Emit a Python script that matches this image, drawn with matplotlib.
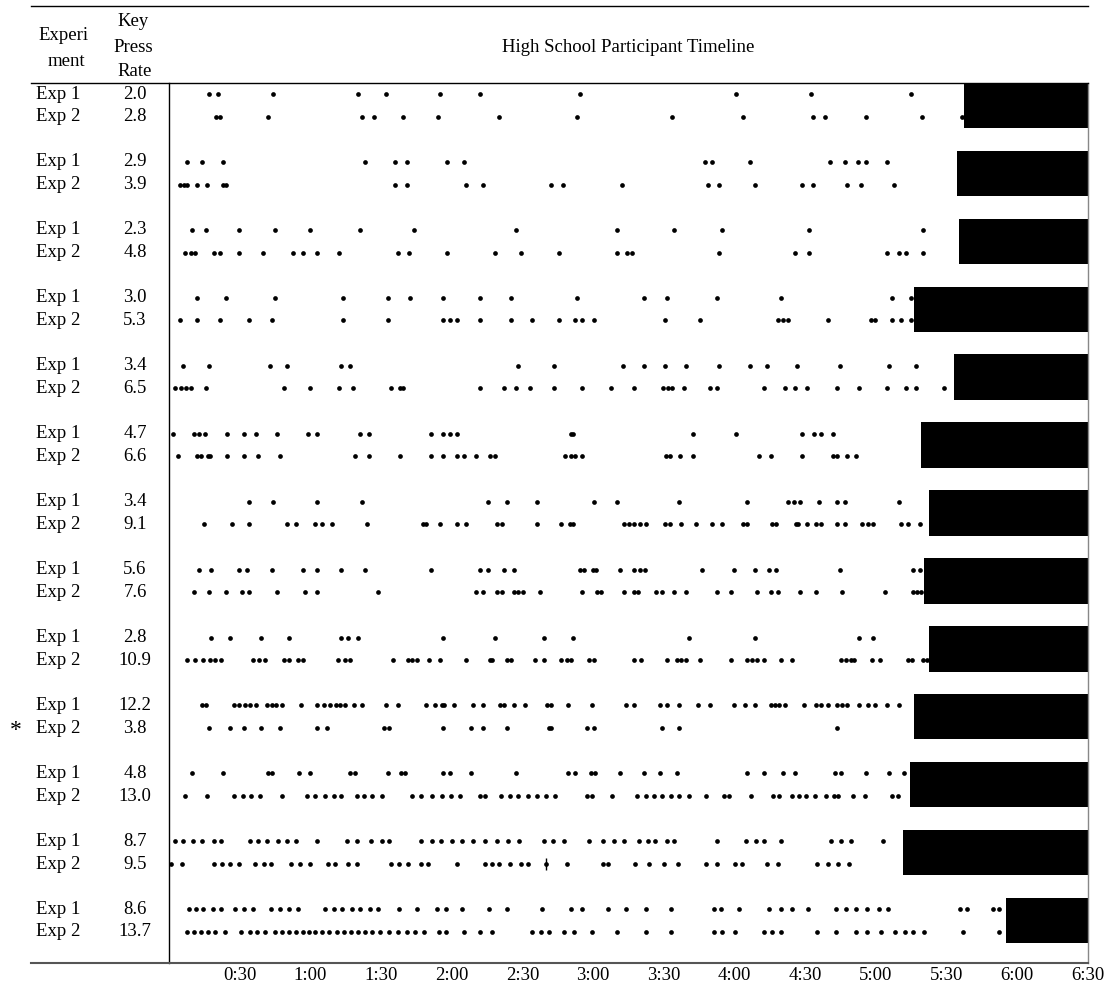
import matplotlib
matplotlib.use("Agg")
import matplotlib.pyplot as plt
from matplotlib.lines import Line2D
from matplotlib.transforms import blended_transform_factory

plt.rcParams['font.family'] = ['Liberation Serif', 'DejaVu Serif']

# key press rates per participant
rate_exp1 = [2.0, 2.9, 2.3, 3.0, 3.4, 4.7, 3.4, 5.6, 2.8, 12.2, 4.8, 8.7, 8.6]
rate_exp2 = [2.8, 3.9, 4.8, 5.3, 6.5, 6.6, 9.1, 7.6, 10.9, 3.8, 13.0, 9.5, 13.7]

# time (s) where the session ended (black bar starts)
session_end = [337.3, 334.3, 335.2, 316.1, 333.0, 319.0, 322.4, 320.3, 322.4, 316.1, 314.4, 311.4, 355.1]

# key press times in seconds
p1_exp1 = [17.0, 21.0, 44.1, 80.0, 92.1, 115.1, 132.1, 174.3, 240.6, 272.6, 314.8]
p1_exp2 = [20.0, 21.7, 41.9, 81.9, 87.1, 99.1, 114.0, 140.2, 173.3, 213.3, 243.6, 273.4, 278.5, 295.7, 319.7, 336.7]
p2_exp1 = [7.8, 13.8, 22.8, 83.0, 96.0, 101.0, 118.0, 125.1, 227.4, 230.5, 246.5, 280.7, 286.8, 292.4, 295.7, 304.7]
p2_exp2 = [4.7, 6.4, 7.8, 11.8, 16.0, 22.8, 24.0, 96.0, 101.0, 126.2, 133.3, 162.2, 167.3, 192.3, 228.6, 233.5,
           248.5, 268.6, 273.4, 287.7, 293.6, 307.7]
p3_exp1 = [9.8, 15.9, 29.9, 44.9, 59.9, 81.0, 104.1, 147.3, 190.3, 214.3, 234.5, 271.6, 319.8]
p3_exp2 = [6.7, 9.5, 11.2, 18.9, 21.7, 29.9, 39.9, 52.8, 56.9, 63.0, 72.0, 97.0, 102.0, 118.0, 138.2, 149.3,
           165.3, 190.3, 194.4, 196.3, 233.5, 265.5, 271.6, 304.6, 309.8, 312.8, 319.8]
p4_exp1 = [11.9, 24.0, 44.9, 73.9, 93.1, 102.1, 116.1, 132.1, 145.3, 173.3, 201.4, 211.4, 232.5, 259.6, 306.7, 314.8]
p4_exp2 = [4.8, 11.9, 21.8, 33.9, 43.9, 73.9, 93.1, 116.1, 119.1, 122.1, 132.1, 145.3, 154.2, 165.3, 172.3,
           175.3, 180.3, 210.4, 225.4, 258.6, 260.6, 262.5, 279.7, 297.8, 299.8, 306.7, 310.8, 314.8]
p5_exp1 = [5.8, 16.9, 42.9, 49.9, 72.9, 76.9, 148.1, 163.3, 192.5, 201.4, 210.4, 219.5, 233.5, 246.5, 253.6,
           266.6, 284.6, 305.7, 316.8]
p5_exp2 = [2.6, 5.0, 7.2, 9.2, 15.9, 48.9, 59.9, 72.0, 78.0, 94.0, 97.9, 99.1, 132.1, 142.3, 147.3, 153.2,
           163.3, 175.3, 187.4, 197.4, 209.6, 211.6, 213.5, 218.5, 229.5, 232.7, 252.6, 261.6, 265.5, 270.6,
           283.6, 292.7, 304.7, 312.8, 316.8, 328.8]
p6_exp1 = [1.7, 10.8, 12.9, 15.3, 24.8, 31.9, 36.8, 45.8, 58.9, 63.0, 81.0, 85.0, 111.2, 116.1, 119.1, 122.1,
           170.4, 171.4, 222.5, 240.5, 268.6, 273.6, 276.6, 281.7]
p6_exp2 = [4.0, 11.8, 13.5, 16.6, 17.6, 24.8, 31.9, 37.8, 46.9, 79.0, 85.0, 98.2, 111.2, 116.1, 122.1, 125.1,
           130.2, 136.1, 138.2, 168.2, 170.4, 172.5, 175.3, 211.0, 212.8, 216.7, 222.5, 250.5, 255.6, 268.6,
           281.7, 283.6, 287.7, 291.7]
p7_exp1 = [33.9, 44.1, 63.0, 82.0, 135.2, 143.3, 156.2, 180.3, 190.3, 216.5, 245.5, 262.5, 265.2, 267.8,
           275.7, 283.4, 286.8, 309.8]
p7_exp2 = [14.9, 26.9, 33.9, 49.9, 54.0, 62.0, 65.0, 69.0, 84.0, 107.8, 109.2, 115.1, 122.2, 126.2, 139.2,
           141.3, 156.2, 166.3, 170.0, 171.4, 193.3, 195.4, 197.5, 199.7, 202.5, 210.4, 212.6, 217.4, 223.5,
           230.5, 234.5, 243.6, 245.5, 256.0, 257.7, 266.0, 266.9, 270.6, 274.7, 276.6, 283.4, 286.8, 294.3,
           296.7, 298.9, 310.5, 313.7, 318.8]
p8_exp1 = [12.8, 17.9, 29.9, 32.9, 43.9, 56.9, 63.0, 72.9, 83.0, 111.2, 132.1, 135.3, 142.3, 146.3, 174.3,
           176.3, 179.9, 181.3, 191.3, 197.3, 199.7, 202.2, 226.4, 239.6, 248.5, 254.6, 257.4, 284.6, 315.6, 318.8]
p8_exp2 = [10.8, 16.9, 24.0, 30.9, 33.9, 45.9, 57.9, 63.0, 88.9, 130.2, 133.3, 139.2, 141.3, 146.3, 148.3,
           150.3, 157.3, 175.3, 181.7, 183.4, 193.3, 197.3, 199.0, 206.5, 209.3, 214.3, 219.5, 232.5, 238.5,
           249.5, 255.5, 258.6, 267.6, 274.7, 285.5, 303.7, 315.6, 317.6, 319.3]
p9_exp1 = [17.9, 25.8, 39.0, 51.0, 72.9, 76.1, 80.0, 116.1, 138.2, 159.3, 171.4, 220.5, 248.5, 292.7, 298.8]
p9_exp2 = [7.8, 10.9, 14.6, 17.4, 19.7, 22.0, 35.8, 38.1, 40.9, 48.7, 51.1, 54.7, 56.8, 71.8, 74.8, 76.6,
           95.0, 101.3, 103.1, 105.2, 110.2, 115.1, 126.2, 136.1, 137.2, 143.3, 145.2, 155.2, 159.3, 166.3,
           168.9, 170.4, 178.2, 180.3, 197.3, 200.4, 211.4, 215.4, 217.4, 219.5, 225.4, 238.5, 245.5, 247.5,
           249.7, 252.6, 259.6, 264.5, 285.3, 287.3, 289.3, 290.7, 298.5, 301.6, 313.7, 315.1, 319.8, 321.6]
p10_exp1 = [13.8, 15.5, 27.6, 29.6, 32.3, 34.4, 36.8, 41.8, 43.8, 45.2, 48.0, 56.0, 63.0, 65.9, 68.4, 70.7,
            72.7, 74.9, 78.6, 82.0, 92.1, 97.0, 109.1, 113.0, 115.9, 116.8, 121.1, 129.0, 133.1, 140.3, 142.3,
            146.3, 151.2, 160.5, 162.2, 169.2, 179.3, 194.0, 197.3, 208.3, 211.4, 216.5, 224.5, 229.5, 239.6,
            244.6, 248.5, 255.6, 257.3, 258.7, 261.4, 269.5, 274.7, 276.6, 279.7, 283.6, 285.8, 287.9, 292.7,
            296.7, 299.8, 304.7, 309.8]
p10_exp2 = [16.9, 25.8, 31.9, 39.0, 46.9, 63.0, 67.0, 91.1, 93.2, 116.1, 128.2, 133.1, 143.3, 161.2, 162.2,
            177.5, 180.3, 209.4, 216.5, 283.6]
p11_exp1 = [9.8, 22.8, 41.9, 43.9, 55.0, 59.9, 76.9, 79.0, 93.1, 98.4, 100.3, 116.1, 119.1, 128.2, 147.3,
            169.2, 172.2, 178.9, 180.7, 191.3, 201.4, 208.5, 215.5, 245.5, 252.6, 260.6, 265.5, 282.7, 285.3,
            295.7, 305.7, 311.8]
p11_exp2 = [6.9, 16.0, 27.5, 31.2, 34.8, 38.8, 47.8, 58.4, 62.1, 66.0, 70.0, 73.0, 79.7, 82.7, 86.3, 90.2,
            103.3, 106.9, 111.5, 116.0, 119.6, 123.6, 131.8, 134.2, 141.1, 144.8, 148.1, 152.3, 156.0, 159.9,
            163.9, 177.2, 179.6, 188.1, 198.7, 202.3, 205.7, 209.3, 212.9, 216.6, 220.5, 228.1, 235.6, 237.8,
            246.9, 256.2, 259.0, 264.4, 267.4, 270.5, 274.1, 278.7, 282.0, 284.1, 290.2, 295.3, 306.8, 309.3]
p12_exp1 = [2.4, 6.0, 10.0, 13.9, 19.1, 22.1, 34.2, 37.9, 41.8, 46.3, 50.0, 53.9, 63.0, 75.7, 79.7, 85.7,
            90.2, 93.3, 106.9, 111.5, 115.4, 120.0, 124.5, 129.0, 134.2, 139.3, 143.9, 148.7, 159.0, 162.9,
            167.5, 178.1, 184.2, 188.7, 193.2, 199.3, 203.2, 206.3, 211.4, 214.4, 232.6, 244.7, 249.3, 252.3,
            259.9, 281.1, 285.0, 289.6, 302.9]
p12_exp2 = [0.9, 5.4, 19.1, 22.7, 25.7, 29.7, 36.6, 40.3, 43.3, 51.8, 55.4, 60.0, 67.5, 70.6, 76.0, 79.7,
            94.2, 97.8, 101.5, 106.9, 109.9, 122.1, 134.2, 137.2, 140.2, 144.8, 149.3, 152.3, 159.9, 169.0,
            184.2, 186.3, 197.8, 203.8, 209.9, 215.9, 228.1, 232.6, 240.2, 243.2, 253.8, 258.4, 275.0, 279.6,
            284.1, 288.6]
p13_exp1 = [8.5, 11.5, 14.5, 18.5, 22.1, 28.2, 31.8, 35.7, 43.3, 46.9, 50.9, 54.8, 66.0, 70.0, 73.6, 77.5,
            81.2, 85.1, 88.7, 97.8, 105.4, 113.6, 117.5, 124.5, 135.7, 143.3, 158.4, 170.5, 175.1, 186.3,
            194.1, 202.3, 212.9, 231.1, 234.1, 241.7, 254.7, 259.9, 264.4, 271.1, 283.2, 287.1, 291.7, 296.2,
            301.4, 305.3, 335.6, 338.6, 349.8, 352.3]
p13_exp2 = [7.6, 10.6, 13.6, 16.6, 19.7, 23.6, 30.6, 34.2, 37.2, 40.9, 44.8, 47.8, 50.9, 53.9, 56.9, 59.4,
            62.1, 65.1, 68.1, 71.2, 74.2, 77.2, 80.3, 83.3, 86.3, 89.6, 93.3, 97.2, 100.9, 104.5, 108.4, 114.5,
            117.5, 125.1, 131.8, 137.2, 153.9, 157.8, 161.4, 167.5, 172.0, 179.6, 190.2, 202.3, 212.9, 231.1,
            234.7, 240.2, 252.3, 255.9, 259.9, 275.0, 283.2, 291.7, 296.2, 302.3, 308.3, 312.3, 315.9, 320.5,
            337.1, 352.3]

exp1_times = [p1_exp1, p2_exp1, p3_exp1, p4_exp1, p5_exp1, p6_exp1, p7_exp1, p8_exp1, p9_exp1, p10_exp1,
              p11_exp1, p12_exp1, p13_exp1]
exp2_times = [p1_exp2, p2_exp2, p3_exp2, p4_exp2, p5_exp2, p6_exp2, p7_exp2, p8_exp2, p9_exp2, p10_exp2,
              p11_exp2, p12_exp2, p13_exp2]

# odd tick mark drawn through one press (participant 12, exp 2)
mark_participant = 11
mark_time = 159.9

# participant flagged with an asterisk (index 9, exp 2 row)
star_participant = 9

tick_secs = [30, 60, 90, 120, 150, 180, 210, 240, 270, 300, 330, 360, 390]
tick_labels = ["0:30", "1:00", "1:30", "2:00", "2:30", "3:00", "3:30", "4:00", "4:30", "5:00", "5:30", "6:00", "6:30"]

W, H = 1118, 989
fig = plt.figure(figsize=(W / 100, H / 100), dpi=100)
ax = fig.add_axes([169 / W, 1 - 963 / H, (1088 - 169) / W, (963 - 83) / H])

fs = 13.5

for i in range(len(exp1_times)):
    y1 = 3 * i
    y2 = 3 * i + 1
    ax.plot(exp1_times[i], [y1] * len(exp1_times[i]), 'o', color='black', ms=3.4, mew=0)
    ax.plot(exp2_times[i], [y2] * len(exp2_times[i]), 'o', color='black', ms=3.4, mew=0)
    ax.barh(y1 + 0.5, 390 - session_end[i], left=session_end[i], height=2.0, color='black')

ax.plot([mark_time], [3 * mark_participant + 1], '|', color='black', ms=9, mew=1.0)

ax.set_xlim(0, 390)
ax.set_ylim(38.37, -0.486)
ax.set_yticks([])
ax.set_xticks(tick_secs)
ax.set_xticklabels(tick_labels, fontsize=fs)
ax.tick_params(axis='x', length=0, pad=3)
ax.spines['top'].set_visible(False)
ax.spines['bottom'].set_visible(False)
ax.spines['left'].set_linewidth(1.0)
ax.spines['right'].set_color('#888888')
ax.spines['right'].set_linewidth(1.0)

# row labels on the left
trans = blended_transform_factory(fig.transFigure, ax.transData)
for i in range(len(rate_exp1)):
    ax.text(58 / W, 3 * i, "Exp 1", transform=trans, ha='center', va='center', fontsize=fs)
    ax.text(58 / W, 3 * i + 1, "Exp 2", transform=trans, ha='center', va='center', fontsize=fs)
    ax.text(135 / W, 3 * i, "%.1f" % rate_exp1[i], transform=trans, ha='center', va='center', fontsize=fs)
    ax.text(135 / W, 3 * i + 1, "%.1f" % rate_exp2[i], transform=trans, ha='center', va='center', fontsize=fs)

ax.text(16 / W, 3 * star_participant + 1.1, "*", transform=trans, ha='center', va='center', fontsize=17)

# header
fig.text(64 / W, 1 - 35 / H, "Experi", ha='center', va='center', fontsize=fs)
fig.text(66 / W, 1 - 61 / H, "ment", ha='center', va='center', fontsize=fs)
fig.text(133 / W, 1 - 22 / H, "Key", ha='center', va='center', fontsize=fs)
fig.text(133 / W, 1 - 47 / H, "Press", ha='center', va='center', fontsize=fs)
fig.text(135 / W, 1 - 72 / H, "Rate", ha='center', va='center', fontsize=fs)
fig.text(628 / W, 1 - 47 / H, "High School Participant Timeline", ha='center', va='center', fontsize=fs)

# table rules
for ypix, col, lw in [(6, 'black', 1.0), (83, 'black', 1.0), (963, '#555555', 1.5)]:
    fig.add_artist(Line2D([31 / W, 1088 / W], [1 - ypix / H, 1 - ypix / H], color=col, lw=lw))

fig.savefig("out.png", dpi=100)
